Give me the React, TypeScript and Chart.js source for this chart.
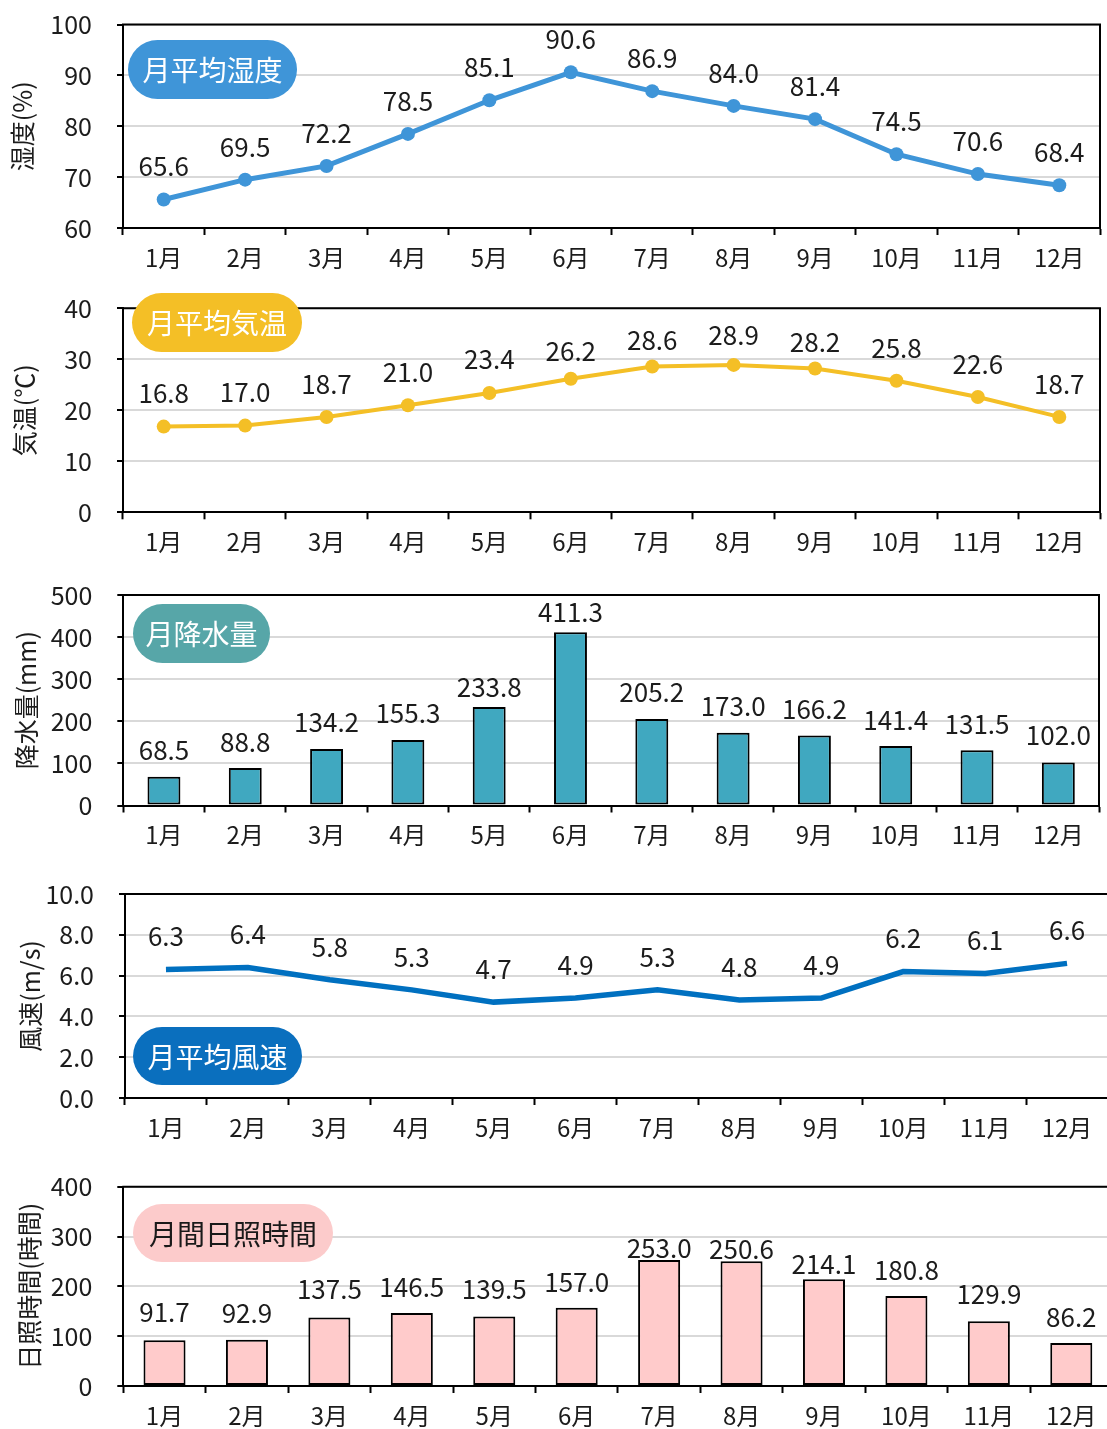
import React, { useEffect, useRef } from "react";
import { Chart, registerables } from "chart.js";

Chart.register(...registerables);

// ---- data ----
const months = ["1月", "2月", "3月", "4月", "5月", "6月", "7月", "8月", "9月", "10月", "11月", "12月"];
const humidity = [65.6, 69.5, 72.2, 78.5, 85.1, 90.6, 86.9, 84.0, 81.4, 74.5, 70.6, 68.4];
const temperature = [16.8, 17.0, 18.7, 21.0, 23.4, 26.2, 28.6, 28.9, 28.2, 25.8, 22.6, 18.7];
const rainfall = [68.5, 88.8, 134.2, 155.3, 233.8, 411.3, 205.2, 173.0, 166.2, 141.4, 131.5, 102.0];
const windSpeed = [6.3, 6.4, 5.8, 5.3, 4.7, 4.9, 5.3, 4.8, 4.9, 6.2, 6.1, 6.6];
const sunshine = [91.7, 92.9, 137.5, 146.5, 139.5, 157.0, 253.0, 250.6, 214.1, 180.8, 129.9, 86.2];

const NUM_FONT = '"Noto Sans CJK JP", "Noto Sans", sans-serif';
const JP_FONT = '"Noto Sans CJK JP", sans-serif';
const INK = "#1c1c1c";

type PanelSpec = {
  kind: "line" | "bar";
  values: number[];
  color: string;
  yMin: number;
  yMax: number;
  yStep: number;
  tickDecimals: number;
  yTitle: string;
  titlePad: number;
  badge: { text: string; x: number; y: number; w: number; h: number; fill: string; ink: string };
  canvasTop: number;
  canvasWidth: number;
  canvasHeight: number;
  area: { left: number; top: number; right: number; bottom: number };
  lineWidth?: number;
  pointRadius?: number;
  barPercentage?: number;
  // distance (px) from each mark's top/centre up to the middle of its value label
  labelGaps: number | number[];
};

const panels: PanelSpec[] = [
  {
    kind: "line",
    values: humidity,
    color: "#3f95d8",
    yMin: 60, yMax: 100, yStep: 10, tickDecimals: 0,
    yTitle: "湿度(%)", titlePad: 7,
    badge: { text: "月平均湿度", x: 128, y: 40, w: 169, h: 59, fill: "#3f95d8", ink: "#ffffff" },
    canvasTop: 0, canvasWidth: 1107, canvasHeight: 282,
    area: { left: 123, top: 24.5, right: 1105, bottom: 228 },
    lineWidth: 5, pointRadius: 7, labelGaps: 33,
  },
  {
    kind: "line",
    values: temperature,
    color: "#f4bf26",
    yMin: 0, yMax: 40, yStep: 10, tickDecimals: 0,
    yTitle: "気温(℃)", titlePad: 9,
    badge: { text: "月平均気温", x: 132, y: 11, w: 170, h: 59, fill: "#f4bf26", ink: "#ffffff" },
    canvasTop: 282, canvasWidth: 1107, canvasHeight: 288,
    area: { left: 123, top: 26.3, right: 1102, bottom: 230.3 },
    lineWidth: 4, pointRadius: 7,
    labelGaps: [33, 33, 33, 33, 34, 28, 26, 30, 26, 33, 33, 33],
  },
  {
    kind: "bar",
    values: rainfall,
    color: "#40a8c0",
    yMin: 0, yMax: 500, yStep: 100, tickDecimals: 0,
    yTitle: "降水量(mm)", titlePad: 11,
    badge: { text: "月降水量", x: 133, y: 34, w: 137, h: 59, fill: "#57a6a8", ink: "#ffffff" },
    canvasTop: 570, canvasWidth: 1107, canvasHeight: 290,
    area: { left: 123.3, top: 25, right: 1099, bottom: 235.5 },
    barPercentage: 0.405,
    labelGaps: [27, 26, 27, 27, 20, 20, 27, 27, 26, 26, 26, 27],
  },
  {
    kind: "line",
    values: windSpeed,
    color: "#0070c0",
    yMin: 0, yMax: 10, yStep: 2, tickDecimals: 1,
    yTitle: "風速(m/s)", titlePad: 15,
    badge: { text: "月平均風速", x: 133, y: 167, w: 169, h: 58, fill: "#0a6fbe", ink: "#ffffff" },
    canvasTop: 860, canvasWidth: 1110, canvasHeight: 300,
    area: { left: 125, top: 34, right: 1108, bottom: 238 },
    lineWidth: 5.5, pointRadius: 0, labelGaps: 33,
  },
  {
    kind: "bar",
    values: sunshine,
    color: "#ffcbcb",
    yMin: 0, yMax: 400, yStep: 100, tickDecimals: 0,
    yTitle: "日照時間(時間)", titlePad: 14,
    badge: { text: "月間日照時間", x: 133, y: 44, w: 200, h: 58, fill: "#fccbcb", ink: "#1a1a1a" },
    canvasTop: 1160, canvasWidth: 1115, canvasHeight: 269,
    area: { left: 123.3, top: 26.7, right: 1112.5, bottom: 226 },
    barPercentage: 0.51,
    labelGaps: [28, 27, 28, 26, 27, 26, 12, 12, 15, 26, 27, 26],
  },
];

// Frame (top/right edges), value labels and the rounded title badge.
const panelDecor = {
  id: "panelDecor",
  afterDatasetsDraw(chart: any, _args: any, opts: any) {
    const { ctx, chartArea: a } = chart;
    ctx.save();
    ctx.strokeStyle = "#000";
    ctx.lineWidth = 2;
    ctx.beginPath();
    ctx.moveTo(a.left - 1, a.top);
    ctx.lineTo(a.right, a.top);
    ctx.lineTo(a.right, a.bottom);
    ctx.stroke();

    const meta = chart.getDatasetMeta(0);
    const data = chart.data.datasets[0].data as number[];
    const gaps = opts.labelGaps;
    ctx.font = `26px ${NUM_FONT}`;
    ctx.fillStyle = INK;
    ctx.textAlign = "center";
    ctx.textBaseline = "middle";
    meta.data.forEach((el: any, i: number) => {
      const gap = Array.isArray(gaps) ? gaps[i] : gaps;
      ctx.fillText(data[i].toFixed(1), el.x, el.y - gap);
    });

    const b = opts.badge;
    ctx.fillStyle = b.fill;
    ctx.beginPath();
    ctx.roundRect(b.x, b.y, b.w, b.h, b.h / 2);
    ctx.fill();
    ctx.fillStyle = b.ink;
    ctx.font = `28px ${JP_FONT}`;
    ctx.fillText(b.text, b.x + b.w / 2, b.y + b.h / 2 + 1);
    ctx.restore();
  },
};

function Panel({ spec }: { spec: PanelSpec }) {
  const ref = useRef<HTMLCanvasElement | null>(null);

  useEffect(() => {
    if (!ref.current) return;
    const s = spec;
    const dataset: any =
      s.kind === "line"
        ? {
            data: s.values,
            borderColor: s.color,
            backgroundColor: s.color,
            borderWidth: s.lineWidth,
            pointRadius: s.pointRadius,
            pointBackgroundColor: s.color,
            pointBorderWidth: 0,
            tension: 0,
          }
        : {
            data: s.values,
            backgroundColor: s.color,
            borderColor: "#000",
            borderWidth: 2,
            borderSkipped: false,
            categoryPercentage: 1,
            barPercentage: s.barPercentage,
          };

    const chart = new Chart(ref.current, {
      type: s.kind,
      data: { labels: months, datasets: [dataset] },
      plugins: [panelDecor],
      options: {
        animation: false,
        responsive: false,
        events: [],
        layout: {
          padding: {
            left: 0,
            top: s.area.top,
            right: s.canvasWidth - s.area.right,
            bottom: 0,
          },
        },
        plugins: {
          legend: { display: false },
          tooltip: { enabled: false },
          panelDecor: { badge: s.badge, labelGaps: s.labelGaps },
        } as any,
        scales: {
          x: {
            type: "category",
            offset: true,
            afterFit: (scale: any) => {
              scale.height = s.canvasHeight - s.area.bottom;
              scale.paddingLeft = 0;
              scale.paddingRight = 0;
            },
            grid: {
              offset: true,
              drawOnChartArea: false,
              drawTicks: true,
              tickLength: 7,
              tickWidth: 2,
              color: "#000",
              tickColor: "#000",
            },
            border: { display: true, color: "#000", width: 2 },
            ticks: {
              color: INK,
              padding: 8,
              maxRotation: 0,
              autoSkip: false,
              font: { family: NUM_FONT, size: 24 },
            },
          },
          y: {
            min: s.yMin,
            max: s.yMax,
            afterFit: (scale: any) => {
              scale.width = s.area.left;
              scale.paddingTop = 0;
              scale.paddingBottom = 0;
            },
            grid: {
              color: (c: any) => (c.tick && c.tick.value === s.yMin ? "rgba(0,0,0,0)" : "#d9d9d9"),
              lineWidth: 2,
              drawTicks: true,
              tickLength: 6,
              tickWidth: 2,
              tickColor: "#000",
            },
            border: { display: true, color: "#000", width: 2 },
            ticks: {
              stepSize: s.yStep,
              color: INK,
              padding: 25,
              font: { family: NUM_FONT, size: 25 },
              callback: (v: any) => Number(v).toFixed(s.tickDecimals),
            },
            title: {
              display: true,
              text: s.yTitle,
              color: INK,
              padding: { top: s.titlePad, bottom: 0 },
              font: { family: JP_FONT, size: 25 },
            },
          },
        },
      } as any,
    });
    return () => chart.destroy();
  }, [spec]);

  return (
    <canvas
      ref={ref}
      width={spec.canvasWidth}
      height={spec.canvasHeight}
      style={{
        position: "absolute",
        left: 0,
        top: spec.canvasTop,
        width: spec.canvasWidth,
        height: spec.canvasHeight,
      }}
    />
  );
}

export default function App() {
  return (
    <div
      style={{
        position: "absolute",
        left: 0,
        top: 0,
        width: 1107,
        height: 1429,
        overflow: "hidden",
        background: "#ffffff",
      }}
    >
      {panels.map((p, i) => (
        <Panel key={i} spec={p} />
      ))}
    </div>
  );
}
